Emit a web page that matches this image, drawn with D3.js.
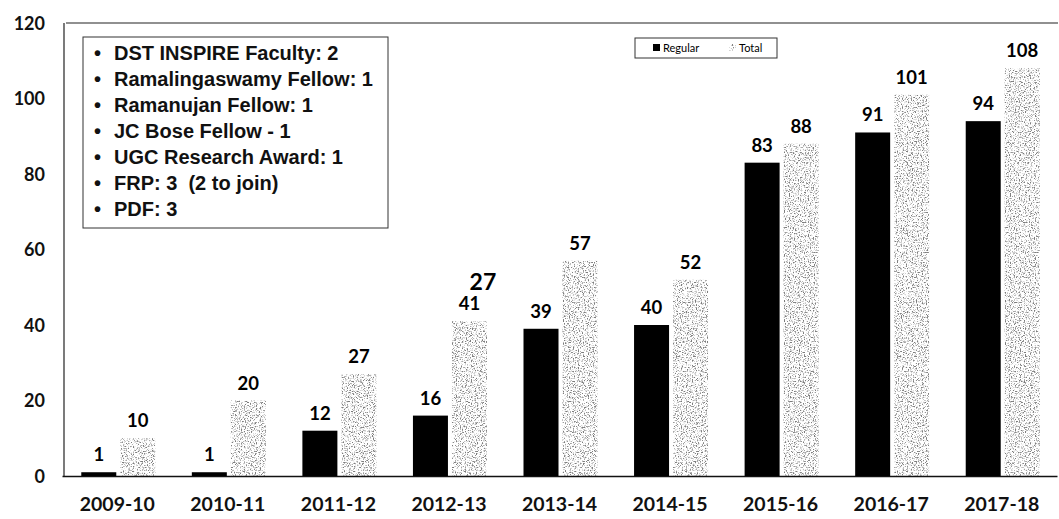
<!DOCTYPE html>
<html lang="en">
<head>
<meta charset="UTF-8">
<title>Regular vs Total</title>
<script src="https://d3js.org/d3.v7.min.js"></script>
<style>
  body { margin: 0; background: #fff; }
  .tick text { font-family: Lato, "Open Sans", sans-serif; font-weight: bold; }
</style>
</head>
<body>
<script>
// data
const years = ["2009-10", "2010-11", "2011-12", "2012-13", "2013-14", "2014-15", "2015-16", "2016-17", "2017-18"];
const regular = [1, 1, 12, 16, 39, 40, 83, 91, 94];
const total = [10, 20, 27, 41, 57, 52, 88, 101, 108];
const yTicks = [0, 20, 40, 60, 80, 100, 120];
const notes = [
  "DST INSPIRE Faculty: 2",
  "Ramalingaswamy Fellow: 1",
  "Ramanujan Fellow: 1",
  "JC Bose Fellow - 1",
  "UGC Research Award: 1",
  "FRP: 3  (2 to join)",
  "PDF: 3"
];

const W = 1059, H = 519;
const margin = {top: 23, right: 2, bottom: 43, left: 62};

const svg = d3.select("body").append("svg")
    .attr("width", W).attr("height", H);

// grainy fill for the Total bars
const defs = svg.append("defs");
const f = defs.append("filter").attr("id", "stipple")
    .attr("x", 0).attr("y", 0).attr("width", 1).attr("height", 1);
f.append("feTurbulence").attr("type", "fractalNoise")
    .attr("baseFrequency", 0.8).attr("numOctaves", 2).attr("seed", 4).attr("result", "n");
f.append("feColorMatrix").attr("in", "n").attr("type", "matrix")
    .attr("values", "0 0 0 0 0.2  0 0 0 0 0.2  0 0 0 0 0.2  4.5 0 0 0 -2.25")
    .attr("result", "dots");
f.append("feComposite").attr("in", "dots").attr("in2", "SourceGraphic").attr("operator", "in");

const x = d3.scaleBand().domain(years).range([margin.left, W - margin.right]);
const y = d3.scaleLinear().domain([0, 120]).range([H - margin.bottom, margin.top]);

const barW = 35, gap = 4;
const numFont = "Lato, sans-serif";

// frame: top line and left line
svg.append("line")
    .attr("x1", margin.left + 4).attr("x2", W - 1)
    .attr("y1", y(120)).attr("y2", y(120))
    .attr("stroke", "#222").attr("stroke-width", 1.2);
svg.append("line")
    .attr("x1", margin.left + 2).attr("x2", margin.left + 2)
    .attr("y1", y(120)).attr("y2", y(0))
    .attr("stroke", "#222").attr("stroke-width", 1.2);

// y axis labels
const yAxis = svg.append("g")
    .attr("transform", `translate(${margin.left - 17},0)`)
    .call(d3.axisLeft(y).tickValues(yTicks).tickSize(0).tickPadding(0));
yAxis.select(".domain").remove();
yAxis.selectAll("text").style("font-size", "18px").attr("fill", "#111").attr("dy", "0.35em");

// x axis
const xAxis = svg.append("g")
    .attr("transform", `translate(0,${y(0)})`)
    .call(d3.axisBottom(x).tickSize(0).tickPadding(21));
xAxis.select(".domain").attr("stroke", "#111").attr("stroke-width", 1.5);
xAxis.selectAll("text").style("font-size", "19.5px").attr("fill", "#111");

const groups = svg.append("g").selectAll("g")
    .data(years.map((yr, i) => ({yr, reg: regular[i], tot: total[i]})))
    .join("g")
    .attr("transform", d => `translate(${x(d.yr) + x.bandwidth() / 2},0)`);

// Regular bars
groups.append("rect")
    .attr("x", -barW - gap / 2 + 1)
    .attr("y", d => y(d.reg))
    .attr("width", barW)
    .attr("height", d => y(0) - y(d.reg))
    .attr("fill", "#000");

// Total bars
groups.append("rect")
    .attr("x", gap / 2 + 1)
    .attr("y", d => y(d.tot))
    .attr("width", barW)
    .attr("height", d => y(0) - y(d.tot))
    .attr("fill", "#fff")
    .attr("filter", "url(#stipple)");

// value labels
groups.append("text")
    .attr("x", -barW / 2 - gap / 2 + 1)
    .attr("y", d => y(d.reg) - 11)
    .attr("text-anchor", "middle")
    .style("font-family", numFont).style("font-weight", "bold").style("font-size", "18.5px")
    .text(d => d.reg);
groups.append("text")
    .attr("x", barW / 2 + gap / 2 + 1)
    .attr("y", d => y(d.tot) - 11)
    .attr("text-anchor", "middle")
    .style("font-family", numFont).style("font-weight", "bold").style("font-size", "18.5px")
    .text(d => d.tot);

// the extra "27" over 2012-13
svg.append("text")
    .attr("x", x("2012-13") + x.bandwidth() / 2 + 34)
    .attr("y", y(total[3]) - 31)
    .attr("text-anchor", "middle")
    .style("font-family", numFont).style("font-weight", "bold").style("font-size", "23px")
    .text("27");

// notes box
const box = svg.append("g");
box.append("rect")
    .attr("x", 83).attr("y", 37).attr("width", 305).attr("height", 191)
    .attr("fill", "#fff").attr("stroke", "#333").attr("stroke-width", 1);
const rows = box.selectAll("g.note")
    .data(notes)
    .join("g")
    .attr("class", "note")
    .attr("transform", (d, i) => `translate(0,${60 + i * 26})`)
    .style("font-family", "'Liberation Sans', Arial, sans-serif")
    .style("font-weight", "bold").style("font-size", "20px")
    .attr("fill", "#111");
rows.append("text").attr("x", 94).text("\u2022");
rows.append("text").attr("x", 114)
    .style("white-space", "pre")
    .text(d => d);

// legend
const leg = svg.append("g");
leg.append("rect")
    .attr("x", 635).attr("y", 38).attr("width", 142).attr("height", 20)
    .attr("fill", "#fff").attr("stroke", "#333").attr("stroke-width", 1);
leg.append("rect")
    .attr("x", 653).attr("y", 44).attr("width", 7).attr("height", 7).attr("fill", "#000");
leg.append("text")
    .attr("x", 663).attr("y", 52)
    .style("font-family", "Lato, sans-serif").style("font-size", "11px")
    .text("Regular");
leg.append("rect")
    .attr("x", 729).attr("y", 44).attr("width", 7).attr("height", 7)
    .attr("fill", "#fff").attr("filter", "url(#stipple)");
leg.append("text")
    .attr("x", 739).attr("y", 52)
    .style("font-family", "Lato, sans-serif").style("font-size", "11px")
    .text("Total");
</script>
</body>
</html>
